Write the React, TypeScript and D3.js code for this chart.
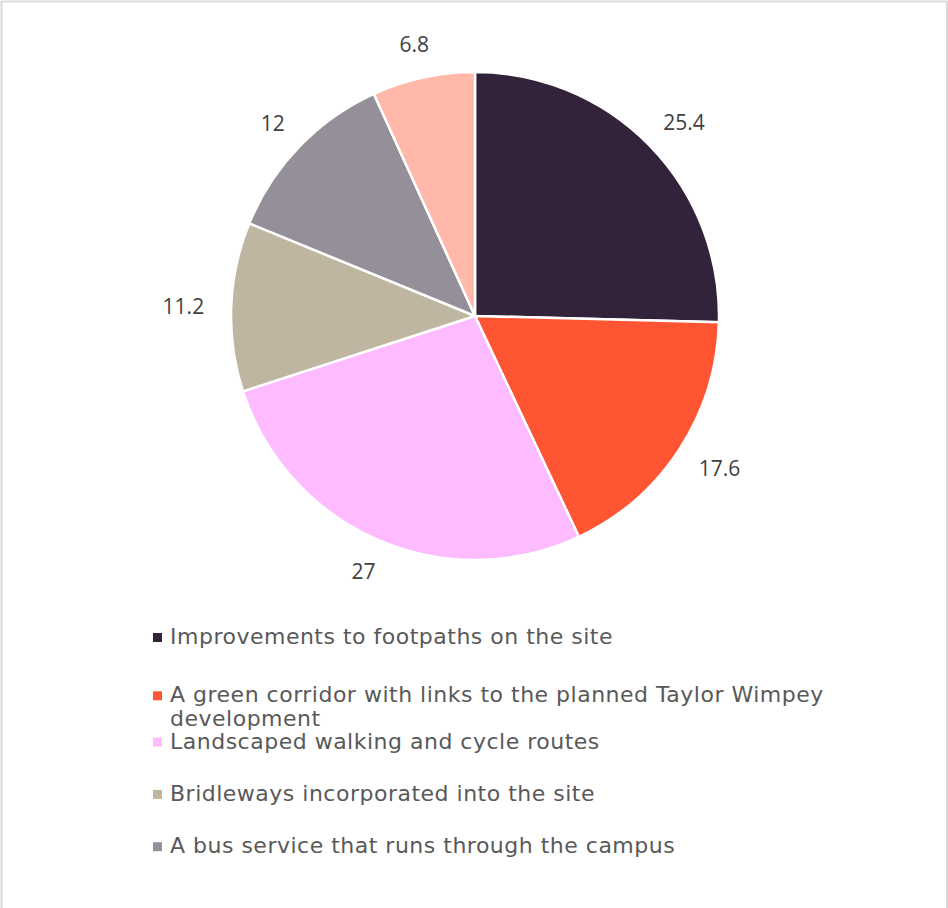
import React from "react";
import * as d3 from "d3";

const categories = [
  "Improvements to footpaths on the site",
  "A green corridor with links to the planned Taylor Wimpey development",
  "Landscaped walking and cycle routes",
  "Bridleways incorporated into the site",
  "A bus service that runs through the campus",
  "Other",
];
const values = [25.4, 17.6, 27, 11.2, 12, 6.8];
const valueLabels = ["25.4", "17.6", "27", "11.2", "12", "6.8"];
const colors = ["#32223A", "#FF5533", "#FFBBFF", "#BFB6A2", "#958F9A", "#FFB8AA"];
const legendLines = [
  ["Improvements to footpaths on the site"],
  ["A green corridor with links to the planned Taylor Wimpey", "development"],
  ["Landscaped walking and cycle routes"],
  ["Bridleways incorporated into the site"],
  ["A bus service that runs through the campus"],
];

const W = 948;
const H = 908;
const cx = 475;
const cy = 316;
const R = 244;
const labelR = 270;
const labelFont = 21;

export default function App() {
  const pie = d3.pie<number>().sort(null).value((d) => d);
  const arcs = pie(values);
  const arc = d3.arc<d3.PieArcDatum<number>>().innerRadius(0).outerRadius(R);

  let y = 644;
  const legendRows: { lines: string[]; y: number; color: string }[] = [];
  legendLines.forEach((lines, i) => {
    const extra = lines.length > 1 ? 6 : 0;
    legendRows.push({ lines, y: y + extra, color: colors[i] });
    y += 52.3;
  });

  return (
    <svg
      width={W}
      height={H}
      style={{ position: "absolute", left: 0, top: 0, display: "block" }}
    >
      <rect x={0} y={0} width={W} height={H} fill="#fff" />
      <rect x={1.5} y={1.5} width={W - 2.5} height={H} fill="none" stroke="#D9D9D9" strokeWidth={2} />
      <g transform={`translate(${cx},${cy})`}>
        {arcs.map((a, i) => (
          <path key={i} d={arc(a) || ""} fill={colors[i]} stroke="#fff" strokeWidth={2.5} />
        ))}
        {arcs.map((a, i) => {
          const mid = (a.startAngle + a.endAngle) / 2;
          const s = Math.sin(mid);
          const c = Math.cos(mid);
          const w = valueLabels[i].length * 0.52 * labelFont;
          const h = 0.75 * labelFont;
          const lx = labelR * s + s * w / 2;
          const ly = -labelR * c - c * h / 2;
          return (
            <text
              key={"l" + i}
              x={lx}
              y={ly}
              textAnchor="middle"
              dominantBaseline="central"
              fontFamily="'Open Sans', sans-serif"
              fontSize={labelFont}
              fill="#404040"
            >
              {valueLabels[i]}
            </text>
          );
        })}
      </g>
      <g>
        {legendRows.map((row, i) => (
          <g key={"lg" + i}>
            <rect x={153} y={row.y - 11} width={9} height={9} fill={row.color} />
            <text fontFamily="'DejaVu Sans', sans-serif" fontSize={22} letterSpacing={0.5} fill="#595959">
              {row.lines.map((ln, j) => (
                <tspan key={j} x={170} y={row.y + j * 23.5}>
                  {ln}
                </tspan>
              ))}
            </text>
          </g>
        ))}
      </g>
    </svg>
  );
}
